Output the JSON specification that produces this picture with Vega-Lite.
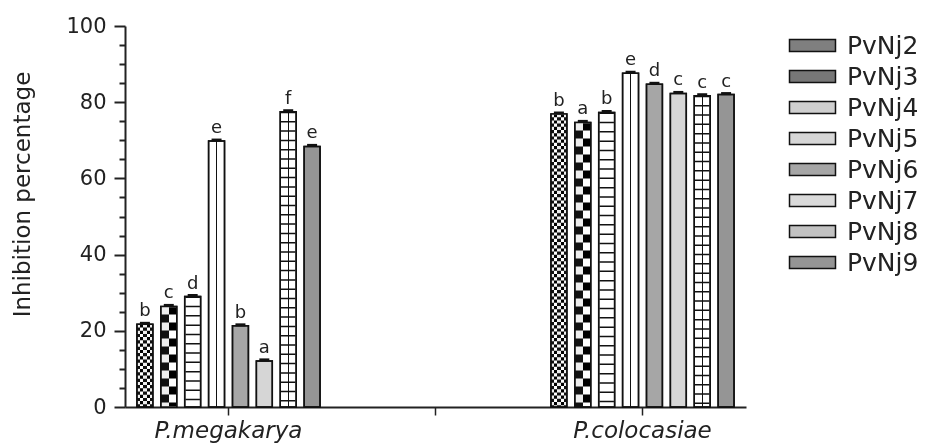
{
  "$schema": "https://vega.github.io/schema/vega-lite/v6.json",
  "width": 621,
  "height": 381,
  "autosize": "none",
  "padding": {"left": 125, "top": 26, "right": 196, "bottom": 39},
  "background": "white",
  "config": {"view": {"stroke": null}, "font": "DejaVu Sans"},
  "data": {
    "values": [
      {"group": "P.megakarya", "strain": "PvNj2", "value": 21.7, "letter": "b"},
      {"group": "P.megakarya", "strain": "PvNj3", "value": 26.4, "letter": "c"},
      {"group": "P.megakarya", "strain": "PvNj4", "value": 29.0, "letter": "d"},
      {"group": "P.megakarya", "strain": "PvNj5", "value": 69.8, "letter": "e"},
      {"group": "P.megakarya", "strain": "PvNj6", "value": 21.3, "letter": "b"},
      {"group": "P.megakarya", "strain": "PvNj7", "value": 12.1, "letter": "a"},
      {"group": "P.megakarya", "strain": "PvNj8", "value": 77.5, "letter": "f"},
      {"group": "P.megakarya", "strain": "PvNj9", "value": 68.4, "letter": "e"},
      {"group": "P.colocasiae", "strain": "PvNj2", "value": 76.9, "letter": "b"},
      {"group": "P.colocasiae", "strain": "PvNj3", "value": 74.7, "letter": "a"},
      {"group": "P.colocasiae", "strain": "PvNj4", "value": 77.3, "letter": "b"},
      {"group": "P.colocasiae", "strain": "PvNj5", "value": 87.6, "letter": "e"},
      {"group": "P.colocasiae", "strain": "PvNj6", "value": 84.7, "letter": "d"},
      {"group": "P.colocasiae", "strain": "PvNj7", "value": 82.3, "letter": "c"},
      {"group": "P.colocasiae", "strain": "PvNj8", "value": 81.7, "letter": "c"},
      {"group": "P.colocasiae", "strain": "PvNj9", "value": 82.0, "letter": "c"}
    ]
  },
  "encoding": {
    "x": {
      "field": "group",
      "type": "nominal",
      "sort": null,
      "scale": {"domain": ["P.megakarya", "mid", "P.colocasiae"], "paddingInner": 0, "paddingOuter": 0},
      "axis": {
        "title": null,
        "labelExpr": "datum.value === 'mid' ? '' : datum.value",
        "labelAngle": 0,
        "labelFontStyle": "italic",
        "labelFontSize": 23,
        "labelColor": "#222",
        "labelPadding": 4,
        "tickSize": 8,
        "tickWidth": 1.5,
        "tickColor": "#222",
        "domainColor": "#222",
        "domainWidth": 2,
        "grid": false
      }
    },
    "xOffset": {
      "field": "strain",
      "type": "nominal",
      "scale": {"domain": ["PvNj2", "PvNj3", "PvNj4", "PvNj5", "PvNj6", "PvNj7", "PvNj8", "PvNj9"], "paddingInner": 0.333, "paddingOuter": 0.5}
    }
  },
  "resolve": {"axis": {"y": "independent"}},
  "layer": [
    {
      "mark": {"type": "bar"},
      "encoding": {
        "y": {
          "field": "value",
          "type": "quantitative",
          "scale": {"domain": [0, 100], "nice": false},
          "axis": {
            "orient": "left",
            "values": [0, 20, 40, 60, 80, 100],
            "title": "Inhibition percentage",
            "titleFontSize": 23,
            "titleFontWeight": "normal",
            "titleColor": "#222",
            "titleAngle": 270,
            "titleX": -103,
            "titleY": 168,
            "titleAlign": "center",
            "titleBaseline": "middle",
            "labelFontSize": 21,
            "labelColor": "#222",
            "labelPadding": 8,
            "tickSize": 11,
            "tickWidth": 2,
            "tickColor": "#222",
            "domainWidth": 2,
            "domainColor": "#222",
            "grid": false
          }
        },
        "fill": {
          "field": "strain",
          "type": "nominal",
          "scale": {
            "domain": ["PvNj2", "PvNj3", "PvNj4", "PvNj5", "PvNj6", "PvNj7", "PvNj8", "PvNj9"],
            "range": ["#7f7f7f", "#777777", "#cfcfcf", "#d6d6d6", "#a6a6a6", "#dadada", "#c2c2c2", "#959595"]
          },
          "legend": {
            "orient": "none",
            "legendX": 675,
            "legendY": 7,
            "title": null,
            "padding": 0,
            "symbolType": "M-3.833,-1H3.833V1H-3.833Z",
            "symbolSize": 144,
            "labelFontSize": 25,
            "labelColor": "#222",
            "labelOffset": 22,
            "rowPadding": 5,
            "symbolStrokeColor": "#111",
            "symbolStrokeWidth": 1.5,
            "symbolOpacity": 1
          }
        }
      }
    },
    {
      "mark": {"type": "bar", "stroke": "#111", "strokeWidth": 1.5},
      "encoding": {
        "y": {"field": "value", "type": "quantitative", "axis": null},
        "fill": {
          "condition": [
            {"test": "datum.strain === 'PvNj2'", "value": {"gradient": "linear", "x1": 0, "y1": 0, "x2": 1, "y2": 0, "stops": [
              {"offset": 0, "color": "#111"}, {"offset": 0.2, "color": "#111"}, {"offset": 0.2, "color": "white"}, {"offset": 0.4, "color": "white"}, {"offset": 0.4, "color": "#111"},
              {"offset": 0.6, "color": "#111"}, {"offset": 0.6, "color": "white"}, {"offset": 0.8, "color": "white"}, {"offset": 0.8, "color": "#111"}, {"offset": 1, "color": "#111"}]}},
            {"test": "datum.strain === 'PvNj3'", "value": {"gradient": "linear", "x1": 0, "y1": 0, "x2": 1, "y2": 0, "stops": [
              {"offset": 0, "color": "#111"}, {"offset": 0.5, "color": "#111"}, {"offset": 0.5, "color": "white"}, {"offset": 1, "color": "white"}]}},
            {"test": "datum.strain === 'PvNj5' || datum.strain === 'PvNj8'", "value": {"gradient": "linear", "x1": 0, "y1": 0, "x2": 1, "y2": 0, "stops": [
              {"offset": 0, "color": "white"}, {"offset": 0.46, "color": "white"}, {"offset": 0.46, "color": "#111"}, {"offset": 0.54, "color": "#111"}, {"offset": 0.54, "color": "white"}, {"offset": 1, "color": "white"}]}},
            {"test": "datum.strain === 'PvNj6'", "value": "#a6a6a6"},
            {"test": "datum.strain === 'PvNj7'", "value": "#d6d6d6"},
            {"test": "datum.strain === 'PvNj9'", "value": "#959595"}
          ],
          "value": "white"
        }
      }
    },
    {
      "transform": [{"filter": "datum.strain === 'PvNj4' || datum.strain === 'PvNj8'"}],
      "mark": {"type": "rule", "strokeWidth": 14.5, "strokeDash": [1.5, 7.8], "color": "#111"},
      "encoding": {
        "y": {"field": "value", "type": "quantitative", "axis": null},
        "y2": {"datum": 0}
      }
    },
    {
      "transform": [{"filter": "datum.strain === 'PvNj2' || datum.strain === 'PvNj3'"}],
      "mark": {"type": "rule", "strokeWidth": 14.5, "color": "white", "blend": "difference"},
      "encoding": {
        "y": {"field": "value", "type": "quantitative", "axis": null},
        "y2": {"datum": 0},
        "strokeDash": {"condition": {"test": "datum.strain === 'PvNj3'", "value": [8, 8]}, "value": [3.2, 3.2]}
      }
    },
    {
      "mark": {"type": "bar", "fillOpacity": 0, "stroke": "#111", "strokeWidth": 1.5},
      "encoding": {
        "y": {
          "field": "value",
          "type": "quantitative",
          "axis": {
            "orient": "left",
            "values": [5, 10, 15, 25, 30, 35, 45, 50, 55, 65, 70, 75, 85, 90, 95],
            "labels": false,
            "domain": false,
            "title": null,
            "tickSize": 6,
            "tickWidth": 2,
            "tickColor": "#222",
            "grid": false
          }
        }
      }
    },
    {
      "mark": {"type": "tick", "thickness": 3, "size": 10, "color": "#111", "opacity": 1, "yOffset": -1},
      "encoding": {
        "y": {"field": "value", "type": "quantitative", "axis": null}
      }
    },
    {
      "mark": {"type": "text", "dy": -8, "baseline": "alphabetic", "fontSize": 18, "color": "#222"},
      "encoding": {
        "y": {"field": "value", "type": "quantitative", "axis": null},
        "text": {"field": "letter"}
      }
    }
  ]
}
